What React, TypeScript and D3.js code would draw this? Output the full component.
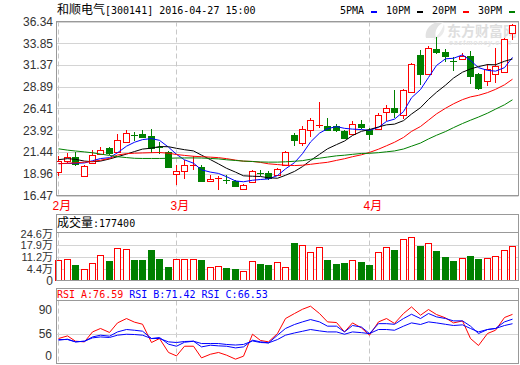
import React from "react";
import * as d3 from "d3";

const dates = [
  "2016-02-03","2016-02-04","2016-02-05","2016-02-15","2016-02-16","2016-02-17","2016-02-18","2016-02-19",
  "2016-02-22","2016-02-23","2016-02-24","2016-02-25","2016-02-26","2016-02-29",
  "2016-03-01","2016-03-02","2016-03-03","2016-03-04","2016-03-07","2016-03-08","2016-03-09","2016-03-10","2016-03-11",
  "2016-03-14","2016-03-15","2016-03-16","2016-03-17","2016-03-18","2016-03-21","2016-03-22","2016-03-23","2016-03-24","2016-03-25",
  "2016-03-28","2016-03-29","2016-03-30","2016-03-31",
  "2016-04-01","2016-04-05","2016-04-06","2016-04-07","2016-04-08","2016-04-11","2016-04-12","2016-04-13","2016-04-14","2016-04-15",
  "2016-04-18","2016-04-19","2016-04-20","2016-04-21","2016-04-22","2016-04-25","2016-04-26","2016-04-27",
];

const opens = [19.11,20.45,20.83,18.70,20.18,21.25,21.90,21.44,22.58,23.42,23.46,23.31,21.99,21.40,18.96,19.23,19.88,19.72,18.16,18.43,18.27,18.16,17.20,18.00,19.04,19.04,18.77,19.99,23.42,22.47,23.99,24.38,24.45,24.38,23.88,23.54,24.68,23.99,24.07,26.06,26.51,25.71,28.27,32.47,30.29,33.15,32.85,31.82,32.08,32.39,30.29,29.53,30.29,30.56,35.06];
const highs = [20.94,21.33,21.40,19.95,21.71,22.00,21.97,23.54,23.98,23.73,23.92,24.07,22.60,21.50,19.99,20.56,20.94,19.99,18.85,18.66,18.85,18.27,17.82,19.42,19.42,19.30,19.61,21.50,23.61,24.45,25.33,27.12,25.33,24.68,23.99,24.95,25.06,24.19,25.90,26.86,28.50,28.65,31.55,33.08,33.53,34.56,33.23,32.31,32.69,32.96,30.48,31.44,33.34,34.49,36.10];
const lows = [18.66,20.18,19.80,18.62,20.07,21.13,21.13,21.33,22.47,22.66,23.00,21.33,21.20,19.60,17.70,18.39,19.42,18.00,18.08,17.05,17.82,17.43,17.05,17.97,18.66,18.20,18.66,19.88,22.09,22.09,23.16,24.19,23.81,23.77,22.93,23.42,24.07,22.85,23.99,24.95,25.33,25.22,28.12,29.14,30.18,32.58,31.70,30.67,31.93,29.15,28.57,28.96,29.34,30.48,34.20];
const closes = [20.37,20.83,20.07,19.88,21.06,21.63,21.33,22.85,23.61,23.31,23.16,21.90,21.85,19.72,19.23,19.99,19.99,18.08,18.39,18.50,18.16,17.51,17.66,19.23,18.92,18.46,19.49,21.44,22.78,24.07,25.14,24.53,23.99,23.99,23.04,24.68,24.30,23.54,25.71,26.44,25.98,28.57,31.44,30.40,33.34,32.85,32.39,31.70,32.39,30.10,28.76,30.86,31.25,34.37,35.94];

// volume in 万
const volumes = [9.3,9.9,6.3,4.4,7.9,12.2,8.7,16.2,15.6,9.3,9.3,15.2,9.9,5.2,9.9,10.3,10.3,9.3,5.6,6.2,4.6,4.0,3.2,9.1,7.3,6.3,8.3,5.6,19.3,17.9,14.4,16.8,9.3,6.9,7.5,9.7,8.1,6.3,14.4,16.8,15.2,21.7,22.7,17.5,19.1,14.6,11.1,8.7,10.9,11.6,9.9,10.9,11.5,15.0,17.74];

const ma5 = [20.11,20.13,20.15,20.19,20.44,20.69,20.79,21.35,22.10,22.55,22.85,22.97,22.77,21.99,21.17,20.54,20.16,19.40,19.14,18.99,18.62,18.13,18.04,18.21,18.30,18.36,18.75,19.51,20.22,21.25,22.58,23.59,24.10,24.34,24.14,24.05,24.00,23.91,24.25,24.93,25.19,26.05,27.63,28.57,29.95,31.32,32.08,32.14,32.53,31.89,31.07,30.76,30.67,31.07,32.24];
const ma10 = [20.56,20.68,20.60,20.40,20.33,20.40,20.64,20.90,21.20,21.49,21.77,21.88,22.06,22.04,21.86,21.70,21.56,21.08,20.56,20.08,19.58,19.14,18.72,18.67,18.64,18.49,18.44,18.78,19.22,19.77,20.47,21.17,21.80,22.28,22.69,23.32,23.80,24.00,24.30,24.54,24.62,25.02,25.77,26.50,27.44,28.26,29.07,29.88,30.55,30.92,31.19,31.42,31.40,31.80,32.06];
const ma20 = [20.10,20.15,20.20,20.28,20.35,20.50,20.70,21.10,21.25,21.30,21.33,21.36,21.38,21.30,21.15,21.05,20.95,20.90,20.85,20.79,20.68,20.51,20.39,20.36,20.25,20.09,20.00,19.93,19.89,19.93,20.03,20.16,20.26,20.48,20.67,20.90,21.12,21.39,21.76,22.15,22.55,23.10,23.79,24.35,25.07,25.79,26.43,26.94,27.42,27.73,27.91,28.22,28.59,29.11,29.75];
const ma30 = [21.80,21.65,21.55,21.45,21.35,21.20,21.05,20.90,20.80,20.72,20.70,20.70,20.70,20.72,20.75,20.76,20.76,20.75,20.70,20.65,20.55,20.47,20.40,20.35,20.30,20.28,20.28,20.32,20.38,20.45,20.61,20.73,20.86,21.00,21.07,21.17,21.27,21.29,21.36,21.46,21.56,21.78,22.10,22.46,22.93,23.35,23.77,24.22,24.69,25.07,25.43,25.87,26.33,26.83,27.40];

const rsiA = [50.6,53.4,47.7,47.0,57.7,61.4,57.1,67.4,72.1,68.2,66.0,46.3,50.6,35.6,31.9,42.3,42.3,29.8,33.7,35.6,32.7,28.4,31.6,55.2,48.5,47.0,56.0,72.1,77.5,82.1,85.4,77.5,68.5,67.8,57.7,67.4,62.0,54.2,68.5,72.1,66.8,77.5,84.6,75.7,81.8,76.4,72.8,67.4,69.5,50.6,43.1,56.0,59.5,73.2,76.59];
const rsiB = [49.5,49.5,47.0,47.7,52.3,54.2,53.1,57.7,60.3,59.5,58.5,50.6,51.7,44.5,42.3,46.6,47.7,41.6,43.4,42.7,42.3,40.5,41.6,48.8,47.0,45.9,54.2,61.4,65.7,68.5,71.0,68.5,63.9,63.9,57.7,64.6,62.9,55.9,66.6,66.6,65.9,72.1,76.7,72.1,77.5,73.9,72.1,69.6,69.6,63.9,55.9,60.3,61.4,68.5,71.42];
const rsiC = [48.8,49.9,47.0,47.7,51.3,52.3,51.7,54.2,55.2,54.9,54.2,50.6,50.6,47.0,46.3,47.4,47.7,45.2,45.2,45.2,44.2,43.6,44.2,48.0,46.3,45.9,49.5,54.2,56.6,58.4,60.3,58.8,57.7,57.7,55.2,57.7,56.9,55.9,60.3,60.3,59.5,63.9,67.4,65.7,68.5,67.4,65.9,64.6,65.3,61.4,57.7,60.3,61.4,64.6,66.53];

const priceTicks = [36.34, 33.85, 31.37, 28.89, 26.41, 23.92, 21.44, 18.96, 16.47];
const volTicks = [24.6, 17.9, 11.2, 4.4];
const volTickLabels = ["24.6万", "17.9万", "11.2万", "4.4万"];
const rsiTickValues = [82, 56, 32.5];
const rsiTickLabels = ["90", "56", "0"];
const maNames = ["5PMA", "10PM", "20PM", "30PM"];
const stockName = "和顺电气";
const stockCode = "[300141] 2016-04-27 15:00";

const RED = "#ff0000";
const GREEN = "#008000";
const BLUE = "#0000ff";
const BLACK = "#000000";
const maColors = [BLUE, BLACK, RED, GREEN];
const FRAME = "#999999";
const GRID = "#d4d4d4";
const LABEL = "#333333";
const SANS = "'Liberation Sans', Arial, 'Noto Sans CJK SC', sans-serif";
const MONO = "'DejaVu Sans Mono', 'Liberation Mono', monospace";
const CJK = "'Noto Sans CJK SC', sans-serif";

const L = 56.5, R = 518.5;
const M_TOP = 21.5, M_BOT = 195.5;
const V_TOP = 214.5, V_HDR = 232.5, V_BOT = 280.5;
const S_TOP = 288.5, S_HDR = 300.5, S_BOT = 363.5;

export default function App() {
  const x = d3.scaleBand<string>().domain(dates).range([54.1, 516.1]).paddingInner(0).paddingOuter(0);
  const cx = (i: number) => Math.round((x(dates[i]) as number) + x.bandwidth() / 2) + 0.5;
  const yP = d3.scaleLinear().domain([16.47, 36.34]).range([M_BOT, M_TOP]);
  const yV = d3.scaleLinear().domain([-2.5, 24.6]).range([V_BOT, 234]);
  const yS = d3.scaleLinear().domain([56, 90]).range([333.5, 301.9]);

  const mkLine = (vals: number[], ys: d3.ScaleLinear<number, number>) =>
    d3.line<number>().x((_, i) => cx(i)).y((v) => ys(v))(vals) || "";

  const monthStarts = dates
    .map((d, i) => ({ d, i }))
    .filter(({ d, i }) => i === 0 || d.slice(5, 7) !== dates[i - 1].slice(5, 7));

  const rsiSeries = [
    { name: "RSI_A", vals: rsiA, color: RED },
    { name: "RSI_B", vals: rsiB, color: BLUE },
    { name: "RSI_C", vals: rsiC, color: BLUE },
  ];
  const mas = [ma5, ma10, ma20, ma30];
  const last = dates.length - 1;

  return (
    <svg width={520} height={365} style={{ position: "absolute", left: 0, top: 0, background: "#fff" }}>
      <rect x={0} y={0} width={520} height={365} fill="#fff" />
      <defs>
        <clipPath id="cMain"><rect x={L} y={M_TOP} width={R - L} height={M_BOT - M_TOP} /></clipPath>
        <clipPath id="cRsi"><rect x={L} y={S_HDR} width={R - L} height={S_BOT - S_HDR} /></clipPath>
      </defs>

      {/* title */}
      <text x={57} y={14} fontSize={10} fill="#000">
        <tspan fontFamily={CJK} fontSize={12}>{stockName}</tspan>
        <tspan fontFamily={MONO}>{stockCode}</tspan>
      </text>
      {/* legend */}
      {maNames.map((n, k) => {
        const lx = 340 + k * 46;
        return (
          <g key={n}>
            <text x={lx} y={14} fontFamily={MONO} fontSize={10} fill="#000">{n}</text>
            <rect x={lx + 31} y={11} width={6} height={2} fill={maColors[k]} />
          </g>
        );
      })}

      {/* ===== main panel ===== */}
      {priceTicks.map((t) => (
        <g key={t}>
          <line x1={L} x2={R} y1={Math.round(yP(t)) + 0.5} y2={Math.round(yP(t)) + 0.5} stroke={GRID} />
          <text x={53} y={yP(t)} dy="0.36em" textAnchor="end" fontFamily={SANS} fontSize={12} fill={LABEL}>
            {t.toFixed(2)}
          </text>
        </g>
      ))}
      {monthStarts.map(({ d, i }) => (
        <g key={d}>
          <line x1={cx(i)} x2={cx(i)} y1={M_TOP} y2={M_BOT} stroke="#c8c8c8" strokeDasharray="5,3" />
          <line x1={cx(i)} x2={cx(i)} y1={V_HDR} y2={V_BOT} stroke="#c8c8c8" strokeDasharray="5,3" />
          <line x1={cx(i)} x2={cx(i)} y1={S_HDR} y2={S_BOT} stroke="#c8c8c8" strokeDasharray="5,3" />
          <text x={cx(i) - 6} y={210} fontFamily={SANS} fontSize={12} fill={RED}>
            {`${+d.slice(5, 7)}月`}
          </text>
        </g>
      ))}

      {/* watermark */}
      <g>
        <path d="M426,38 C424,28 434,20 444,22 C438,25 434,30 436,38 Z" fill="#e2e2e2" />
        <path d="M432,40 C438,36 442,30 444,24 C446,32 442,38 432,40 Z" fill="#ebebeb" />
        <text x={447} y={36} fontFamily={CJK} fontSize={14} fontWeight={700} fill="#dedede">东方财富网</text>
        <text x={449} y={45} fontFamily={SANS} fontSize={7} fontStyle="italic" fontWeight={700} fill="#e4e4e4" letterSpacing={0.8}>eastmoney.com</text>
      </g>

      {/* candles */}
      <g clipPath="url(#cMain)" shapeRendering="crispEdges">
        {dates.map((d, i) => {
          const o = opens[i], c = closes[i];
          const up = c >= o;
          const col = up ? RED : GREEN;
          const xc = cx(i);
          const yt = Math.round(yP(Math.max(o, c)));
          const yb = Math.round(yP(Math.min(o, c)));
          const yh = Math.round(yP(highs[i]));
          const yl = Math.round(yP(lows[i]));
          const flat = yb - yt < 2;
          return (
            <g key={d}>
              <line x1={xc} x2={xc} y1={yh} y2={yl} stroke={col} />
              {flat ? (
                <line x1={xc - 3.5} x2={xc + 3.5} y1={yt + 0.5} y2={yt + 0.5} stroke={col} />
              ) : up ? (
                <rect x={xc - 3} y={yt + 0.5} width={6} height={yb - yt} fill="#fff" stroke={col} />
              ) : (
                <rect x={xc - 3.5} y={yt} width={7} height={yb - yt + 1} fill={col} />
              )}
            </g>
          );
        })}
      </g>
      {/* MAs */}
      <g clipPath="url(#cMain)" fill="none">
        {mas.map((m, k) => (
          <path key={k} d={mkLine(m, yP)} stroke={maColors[k]} strokeWidth={1} />
        ))}
      </g>
      <rect x={L} y={M_TOP} width={R - L} height={M_BOT - M_TOP} fill="none" stroke={FRAME} shapeRendering="crispEdges" />

      {/* ===== volume panel ===== */}
      {volTicks.slice(1).map((t) => (
        <line key={t} x1={L} x2={R} y1={Math.round(yV(t)) + 0.5} y2={Math.round(yV(t)) + 0.5} stroke={GRID} />
      ))}
      {volTicks.map((t, k) => (
        <text key={t} x={53} y={yV(t)} dy="0.36em" textAnchor="end" fontFamily={SANS} fontSize={11} fill={LABEL}>
          {volTickLabels[k]}
        </text>
      ))}
      <text x={53} y={yV.range()[0]} dy="0.36em" textAnchor="end" fontFamily={SANS} fontSize={12} fill={LABEL}>0</text>
      <g shapeRendering="crispEdges">
        {volumes.map((v, i) => {
          const up = closes[i] >= opens[i];
          const xc = cx(i);
          const yt = Math.round(yV(v));
          return up ? (
            <rect key={i} x={xc - 3} y={yt + 0.5} width={6} height={V_BOT - 0.5 - (yt + 0.5)} fill="#fff" stroke={RED} />
          ) : (
            <rect key={i} x={xc - 3.5} y={yt} width={7} height={V_BOT - yt} fill={GREEN} />
          );
        })}
      </g>
      <text x={57} y={227} fontSize={10} fill="#000">
        <tspan fontFamily={CJK} fontSize={12}>成交量</tspan>
        <tspan fontFamily={MONO}>{`:${Math.round(volumes[last] * 10000)}`}</tspan>
      </text>
      <g shapeRendering="crispEdges" fill="none" stroke={FRAME}>
        <rect x={L} y={V_TOP} width={R - L} height={V_BOT - V_TOP} />
        <line x1={L} x2={R} y1={V_HDR} y2={V_HDR} />
      </g>

      {/* ===== RSI panel ===== */}
      <line x1={L} x2={R} y1={Math.round(yS(56)) + 0.5} y2={Math.round(yS(56)) + 0.5} stroke={GRID} />
      {rsiTickValues.map((t, k) => (
        <text key={k} x={52} y={yS(t)} dy="0.36em" textAnchor="end" fontFamily={SANS} fontSize={12} fill={LABEL}>
          {rsiTickLabels[k]}
        </text>
      ))}
      <g clipPath="url(#cRsi)" fill="none">
        {rsiSeries.map((s) => (
          <path key={s.name} d={mkLine(s.vals, yS)} stroke={s.color} strokeWidth={1} />
        ))}
      </g>
      <text x={57} y={298} fontFamily={MONO} fontSize={10}>
        {rsiSeries.map((s, k) => (
          <tspan key={s.name} fill={s.color}>{`${k ? " " : ""}${s.name}:${s.vals[last].toFixed(2)}`}</tspan>
        ))}
      </text>
      <g shapeRendering="crispEdges" fill="none" stroke={FRAME}>
        <rect x={L} y={S_TOP} width={R - L} height={S_BOT - S_TOP} />
        <line x1={L} x2={R} y1={S_HDR} y2={S_HDR} />
      </g>
    </svg>
  );
}
